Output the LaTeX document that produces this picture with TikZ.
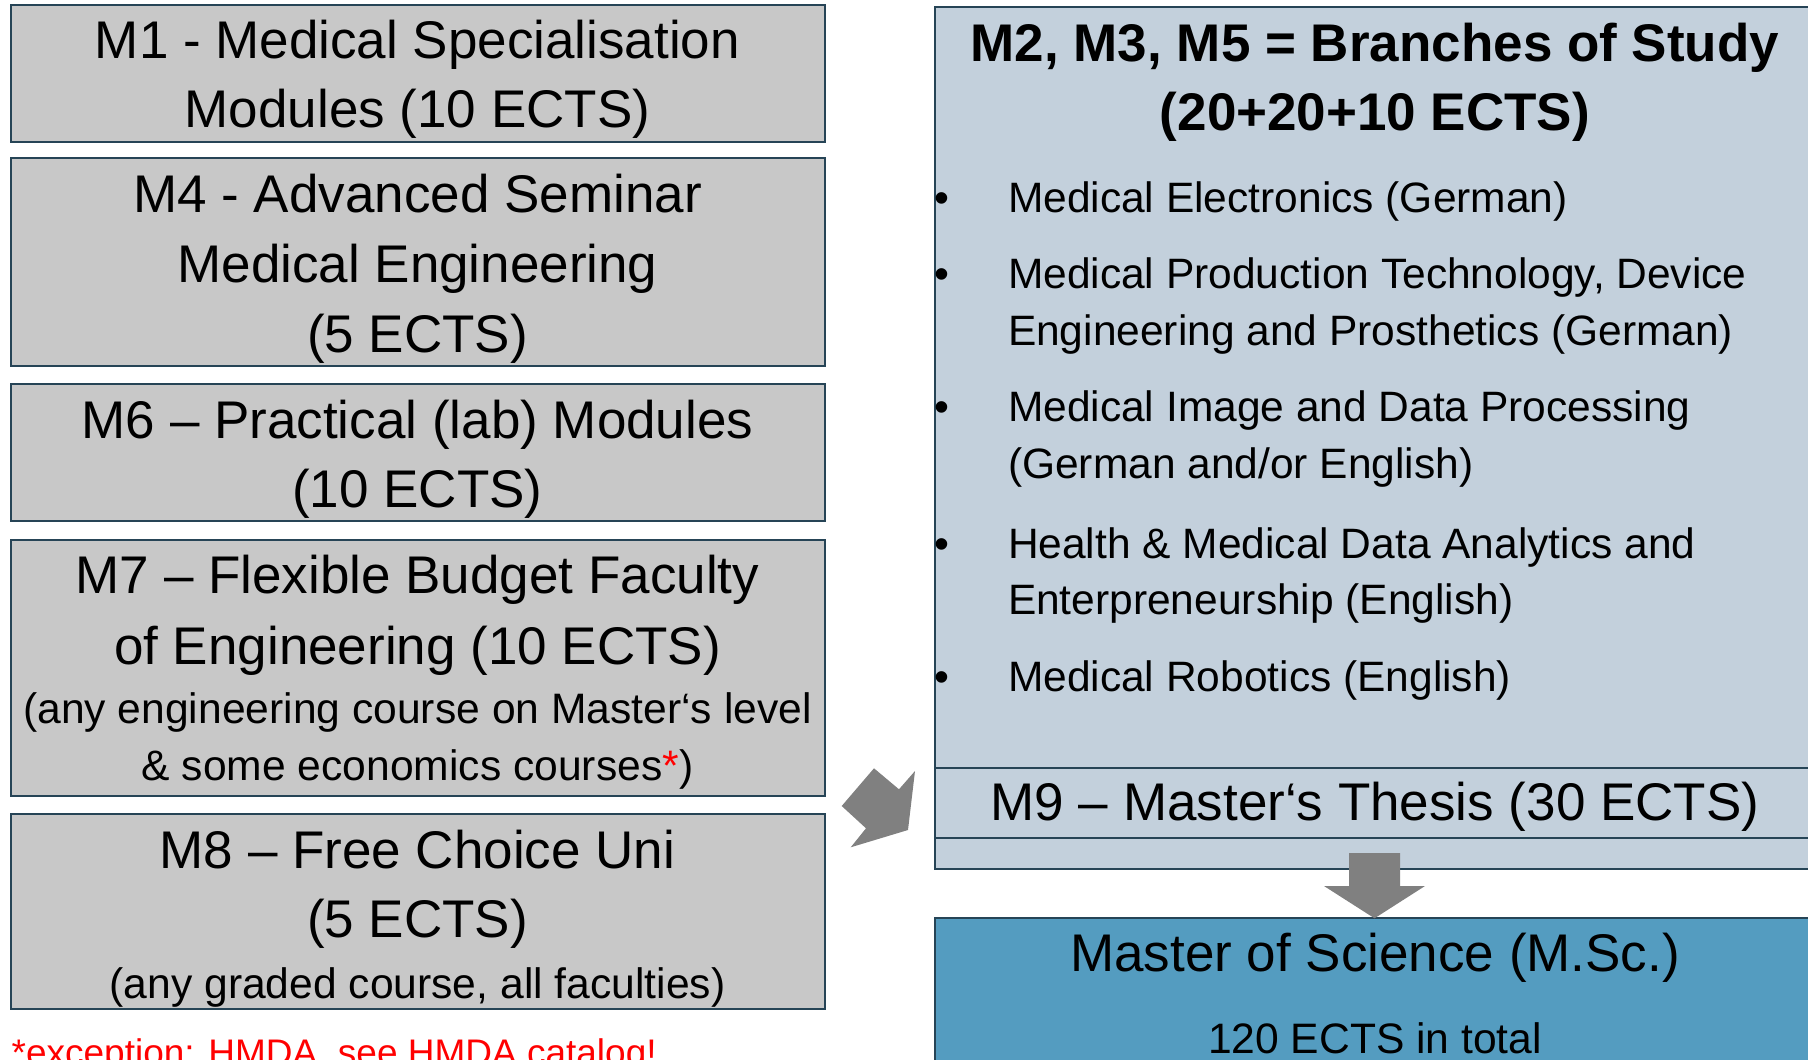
\documentclass[tikz,border=0pt]{standalone}
\usepackage{fontspec}
\setmainfont{Liberation Sans}
\definecolor{lgray}{RGB}{200,200,200}
\definecolor{lblue}{RGB}{195,208,220}
\definecolor{mscblue}{RGB}{84,156,192}
\definecolor{bord}{RGB}{38,68,86}
\definecolor{arrgray}{RGB}{128,128,128}
\definecolor{fnred}{RGB}{255,0,0}
\tikzset{
  boxbase/.style={draw=bord, line width=2pt, inner sep=0pt, outer sep=0pt, rectangle},
  lbox/.style={boxbase, fill=lgray, minimum width=814pt},
  rbox/.style={boxbase, fill=lblue, minimum width=895pt},
  mscbox/.style={boxbase, fill=mscblue, minimum width=895pt},
  big/.style={inner sep=0pt, anchor=base, font=\fontsize{53}{60}\selectfont},
  bigb/.style={inner sep=0pt, anchor=base, font=\fontsize{53}{60}\selectfont\bfseries},
  small/.style={inner sep=0pt, anchor=base, font=\fontsize{42.6}{50}\selectfont},
  item/.style={inner sep=0pt, anchor=base west, font=\fontsize{42.5}{50}\selectfont},
  bul/.style={inner sep=0pt, anchor=base, font=\fontsize{42.5}{50}\selectfont},
  blockarrow/.style={fill=arrgray, draw=none}
}
\begin{document}
\begin{tikzpicture}[x=1pt,y=-1pt]
\useasboundingbox (0,0) rectangle (1808,1060);
\clip (0,0) rectangle (1808,1060);
\fill[white] (0,0) rectangle (1808,1060);

% left boxes
\node[lbox, minimum height=136.9pt] (m1) at (417.5,73.15) {};
\node[lbox, minimum height=208pt] (m4) at (417.5,261.8) {};
\node[lbox, minimum height=136.6pt] (m6) at (417.5,452.7) {};
\node[lbox, minimum height=255.7pt] (m7) at (417.5,667.85) {};
\node[lbox, minimum height=194.9pt] (m8) at (417.5,911.35) {};

\node[big] (m1a) at (417.5,58.8) {M1 - Medical Specialisation};
\node[big] (m1b) at (417.5,127.9) {Modules (10 ECTS)};

\node[big] (m4a) at (417.5,212.2) {M4 - Advanced Seminar};
\node[big] (m4b) at (417.5,282) {Medical Engineering};
\node[big] (m4c) at (417.5,352.1) {(5 ECTS)};

\node[big] (m6a) at (417.5,438.1) {M6 – Practical (lab) Modules};
\node[big] (m6b) at (417.5,507.2) {(10 ECTS)};

\node[big] (m7a) at (417.5,593.9) {M7 – Flexible Budget Faculty};
\node[big] (m7b) at (417.5,664.5) {of Engineering (10 ECTS)};
\node[small] (m7c) at (417.5,723.5) {(any engineering course on Master‘s level};
\node[small] (m7d) at (417.5,780) {\& some economics courses\textcolor{fnred}{*})};

\node[big] (m8a) at (417.5,868.7) {M8 – Free Choice Uni};
\node[big] (m8b) at (417.5,937.8) {(5 ECTS)};
\node[small] (m8c) at (417.5,998.5) {(any graded course, all faculties)};

\node[inner sep=0pt, anchor=base west, font=\fontsize{37}{44}\selectfont, text=fnred] (fn) at (11.5,1065) {*exception: HMDA, see HMDA catalog!};

% right panel
\node[rbox, minimum height=862.3pt] (br) at (1382.5,437.85) {};
\node[rbox, minimum height=70pt] (m9) at (1382.5,803) {};
\node[mscbox, minimum height=170pt] (msc) at (1382.5,1003.3) {};

\node[bigb] (ha) at (1375,61.5) {M2, M3, M5 = Branches of Study};
\node[bigb] (hb) at (1375,130.6) {(20+20+10 ECTS)};

\node[bul] (b1) at (941.5,212.5) {•};
\node[bul] (b2) at (941.5,288.4) {•};
\node[bul] (b3) at (941.5,421.6) {•};
\node[bul] (b4) at (941.5,558.3) {•};
\node[bul] (b5) at (941.5,691.6) {•};

\node[item] (i1) at (1007.8,212.5) {Medical Electronics (German)};
\node[item] (i2a) at (1007.8,288.4) {Medical Production Technology, Device};
\node[item] (i2b) at (1007.8,345.7) {Engineering and Prosthetics (German)};
\node[item] (i3a) at (1007.8,421.6) {Medical Image and Data Processing};
\node[item] (i3b) at (1007.8,478.9) {(German and/or English)};
\node[item] (i4a) at (1007.8,558.3) {Health \& Medical Data Analytics and};
\node[item] (i4b) at (1007.8,614.9) {Enterpreneurship (English)};
\node[item] (i5) at (1007.8,691.6) {Medical Robotics (English)};

\node[big] (m9t) at (1375,820) {M9 – Master‘s Thesis (30 ECTS)};

\node[big] (msca) at (1375,971.5) {Master of Science (M.Sc.)};
\node[small] (mscb) at (1375,1053) {120 ECTS in total};

% block arrows
\fill[blockarrow] (874.0,768.3) -- (899.0,789.3) -- (915.0,771.0) -- (908.0,830.0)
  -- (850.7,847.3) -- (866.0,828.3) -- (841.7,806.0) -- cycle;
\fill[blockarrow] (1349,853) -- (1400,853) -- (1400,886) -- (1425,886)
  -- (1374.5,918.3) -- (1324,886) -- (1349,886) -- cycle;
\end{tikzpicture}
\end{document}
